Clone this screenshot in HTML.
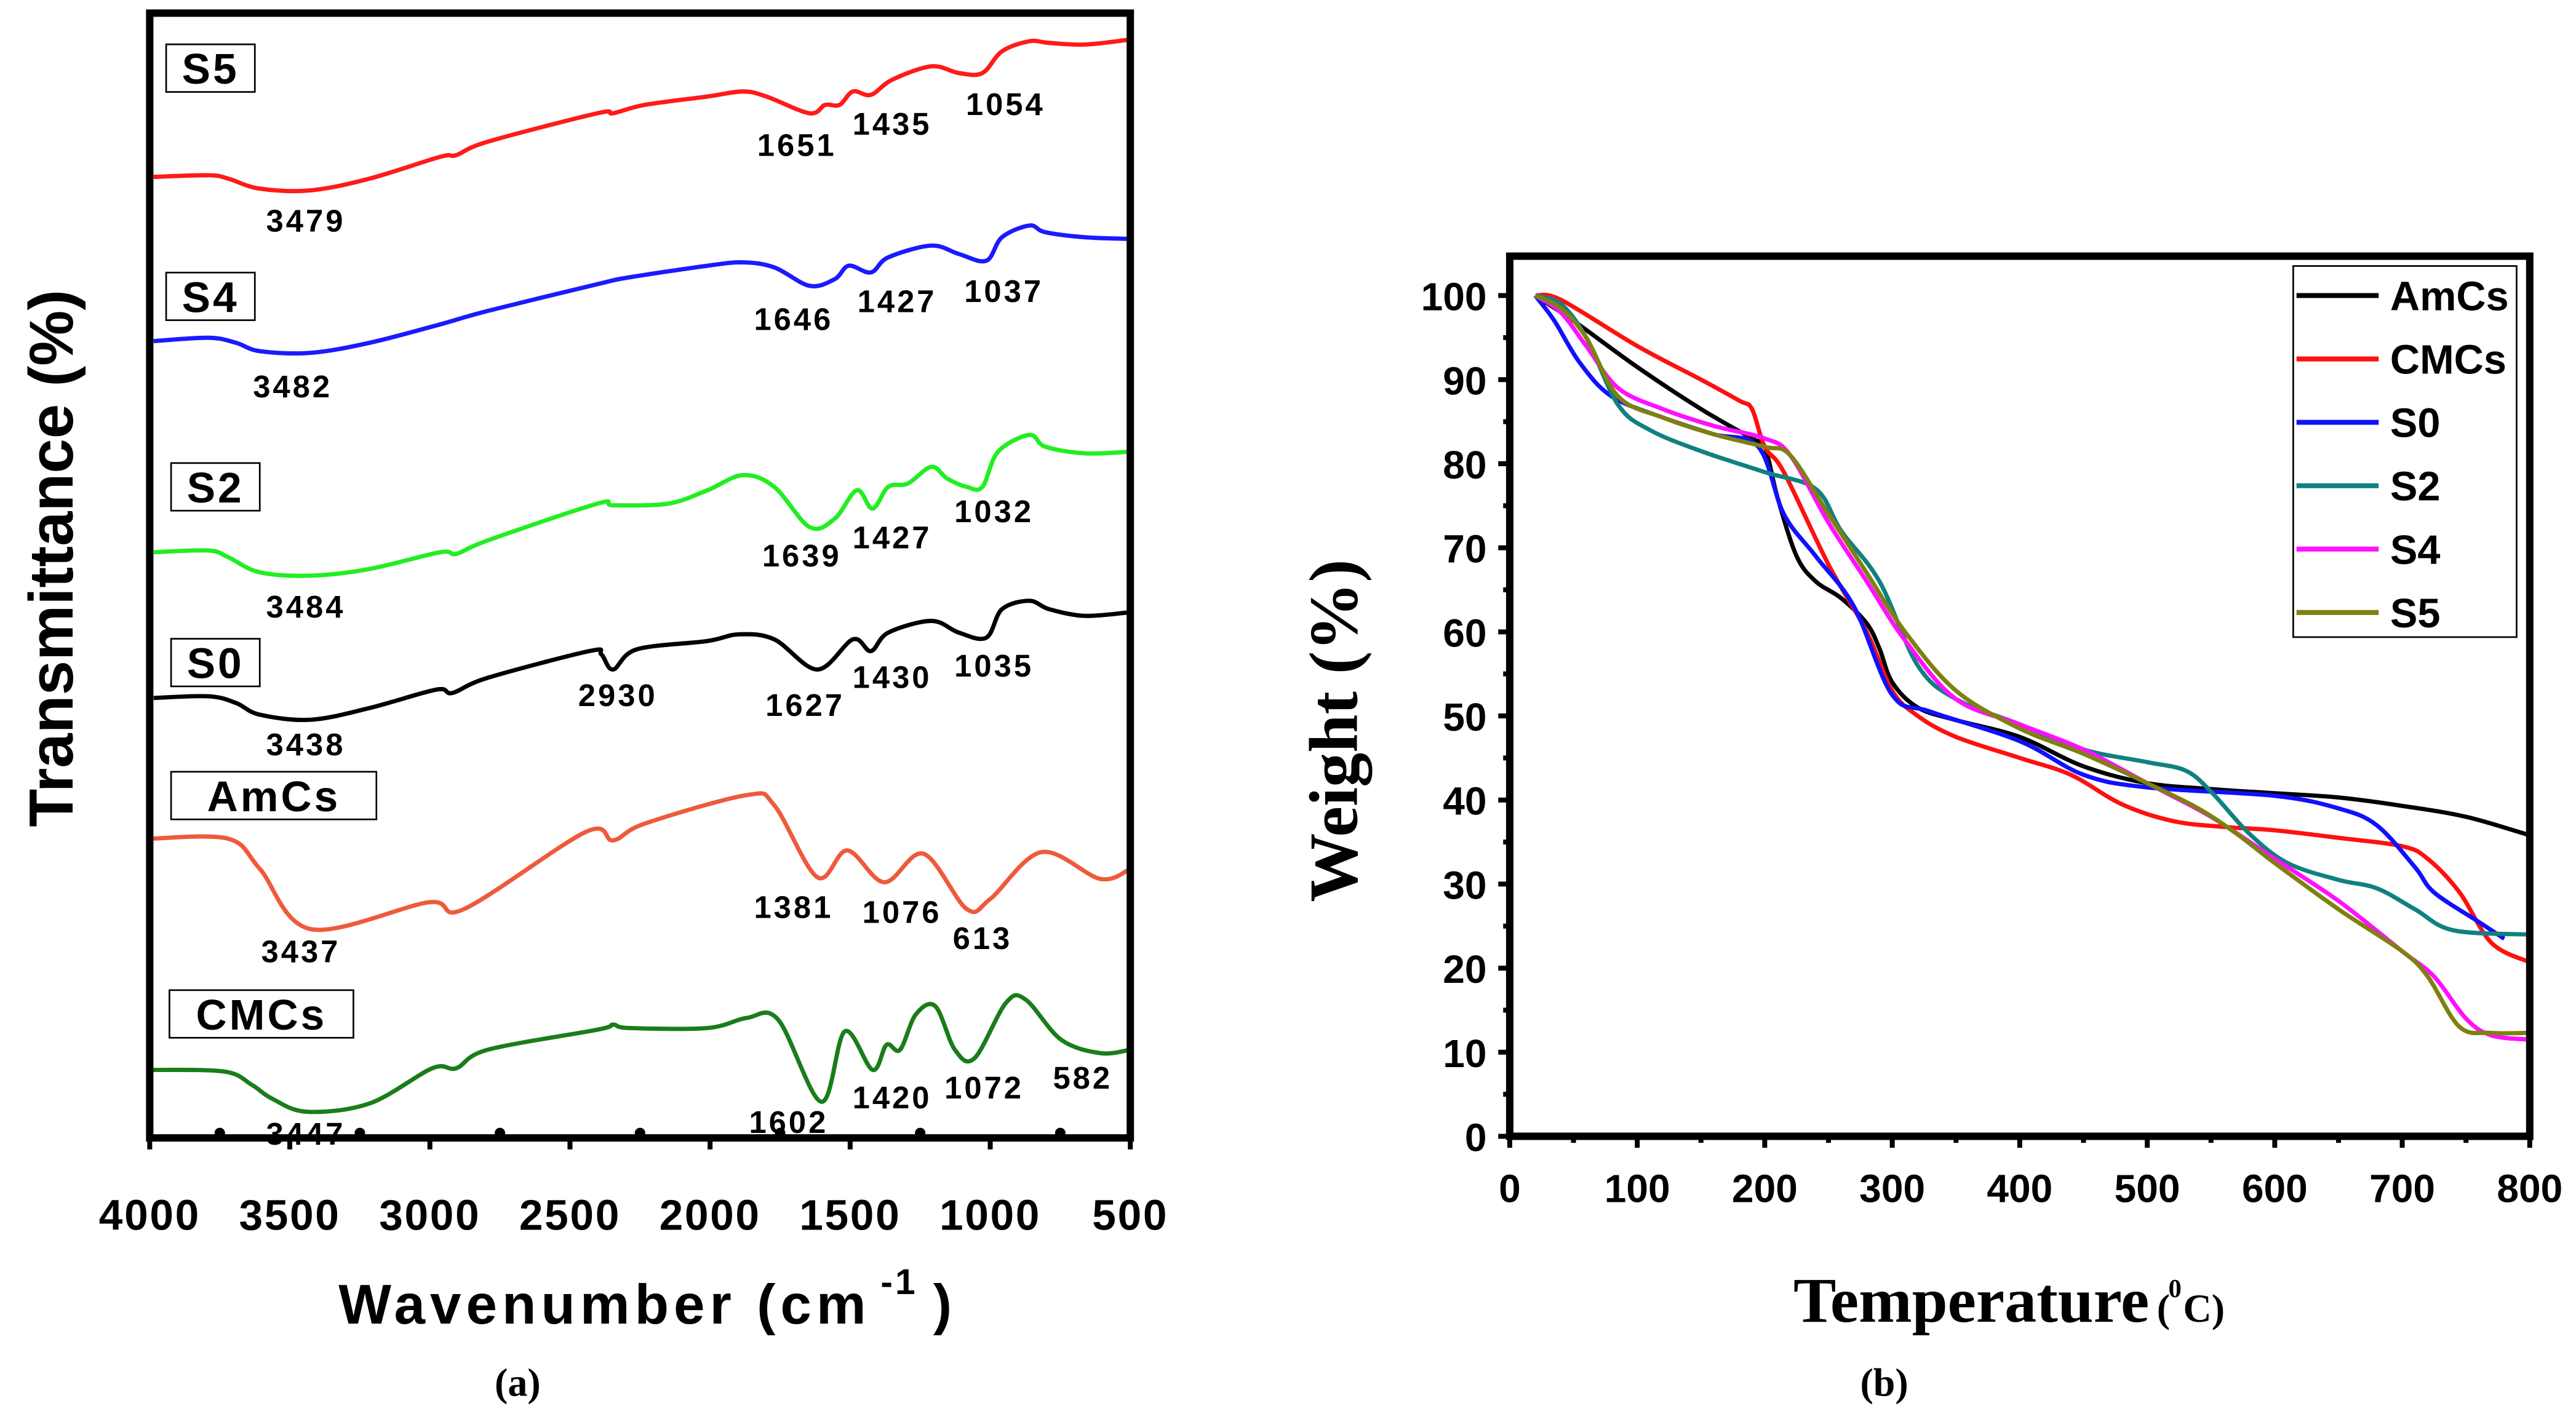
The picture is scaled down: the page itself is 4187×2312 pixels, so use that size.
<!DOCTYPE html>
<html><head><meta charset="utf-8"><style>
html,body{margin:0;padding:0;background:#fff;}
svg{display:block;}
.tk{font-family:"Liberation Sans",sans-serif;font-weight:bold;font-size:26px;fill:#000;letter-spacing:1px;}
.pk{font-family:"Liberation Sans",sans-serif;font-weight:bold;font-size:19px;fill:#000;letter-spacing:1.5px;}
.sm{font-family:"Liberation Sans",sans-serif;font-weight:bold;font-size:26px;fill:#000;letter-spacing:1.5px;}
.sr{font-family:"Liberation Serif",serif;font-weight:bold;fill:#000;}
.lg{font-family:"Liberation Sans",sans-serif;font-weight:bold;font-size:25px;fill:#000;}
</style></head><body>
<svg id="fig" width="4187" height="2312" viewBox="0 0 1568 866" xmlns="http://www.w3.org/2000/svg">
<rect width="1568" height="866" fill="#fff"/>
<g id="pa"></g>
<g id="pb"></g>
</svg>
<script>
// ---------- FTIR data (wavenumber, transmittance a.u.) ----------
const ftirWnS5=[3986,3790,3720,3607,3425,3215,2963,2906,2794,2402,2346,2233,2009,1883,1799,1645,1589,1538,1490,1426,1350,1210,1112,1028,958,860,790,663,500];
const ftirTS5=[589,590,588,582,581,588,601,602,610,627,627,632,637,640,637,627,632,632,640,638,647,655,651,651,664,670,669,668,671];
const ftirWnS4=[3986,3790,3692,3607,3425,3215,2963,2794,2402,2290,2009,1883,1771,1645,1555,1505,1426,1364,1210,1112,1014,958,860,804,663,500];
const ftirTS4=[491,493,490,485,484,490,501,509,525,529,536,538,535,524,528,536,532,541,548,543,539,553,560,556,553,552];
const ftirWnS2=[3986,3790,3720,3607,3425,3215,2963,2906,2794,2402,2346,2149,2009,1883,1771,1645,1555,1476,1420,1364,1294,1210,1154,1084,1028,972,860,804,663,500];
const ftirTS2=[365,366,362,353,351,355,365,364,372,394,393,394,402,411,404,380,385,402,391,404,406,416,409,404,404,425,435,428,424,425];
const ftirWnS0=[3986,3790,3692,3607,3425,3215,2977,2920,2794,2430,2388,2346,2262,2009,1897,1771,1617,1490,1426,1364,1210,1112,1014,958,860,790,663,509];
const ftirTS0=[278,279,275,268,265,272,283,281,290,306,304,295,307,312,316,313,295,313,306,317,324,317,314,331,336,331,327,329];
const ftirWnAm=[4000,3720,3607,3425,3005,2878,2444,2346,2233,1869,1771,1617,1510,1378,1238,1084,1000,817,607,500];
const ftirTAm=[194,194,176,140,156,152,198,193,203,220,214,171,187,168,185,152,158,186,170,176];
const ftirWnCM=[4000,3734,3635,3565,3439,3215,2991,2906,2794,2402,2346,2290,2009,1869,1757,1603,1519,1420,1370,1322,1266,1196,1126,1056,944,874,747,607,500];
const ftirTCM=[56,55,47,39,31,36,57,57,68,80,83,81,81,87,86,37,79,56,71,68,89,94,68,63,96,98,74,66,68];
const ftirXTicks=[4000,3500,3000,2500,2000,1500,1000,500];
// ---------- TGA data (temperature, weight %) ----------
const tgaTAm=[20,50,100,150,190,200,210,225,240,260,280,290,300,320,350,400,450,500,550,600,650,700,750,800];
const tgaWAm=[100,97,91.5,86.5,83,82,76,69,66,64,61,58,54,51,49.5,47.5,44,42,41.3,40.8,40.3,39.3,38,35.8];
const tgaTCM=[20,40,100,150,180,190,200,215,250,280,300,320,350,400,440,480,520,560,600,650,700,720,745,770,800];
const tgaWCM=[100,99.5,94,90,87.5,86.5,82,79,68,60,53,50,47.5,45,43,39.5,37.5,36.8,36.4,35.5,34.5,33,29,23,20.7];
const tgaTS0=[20,35,55,80,120,160,195,215,240,270,300,330,400,450,500,600,650,680,710,725,760,780];
const tgaWS0=[100,97,92,88,85.5,83.5,82,74,69,63,52.5,50.5,47,43,41.5,40.5,39,37,32,29,25.5,23.5];
const tgaTS2=[20,40,60,85,110,150,200,240,260,290,320,350,400,450,500,530,550,580,610,650,680,710,740,800];
const tgaWS2=[100,99,95,87,84,81.5,79,77,72,66,56,52,49,46,44.5,43.5,41,36,32.5,30.5,29.5,27,24.5,24];
const tgaTS4=[20,40,60,85,120,160,200,220,250,280,310,350,400,450,500,550,600,650,700,725,750,770,800];
const tgaWS4=[100,98,94,89,86.5,84.5,83,81,73,66,59,52,49,46,42,38,33,28,22,19,14,12,11.5];
const tgaTS5=[20,40,60,85,120,160,200,220,250,280,310,350,400,450,500,540,570,600,650,700,720,745,770,800];
const tgaWS5=[100,98.5,95,88,85.5,83.5,82,81,74,67,60,53,48.5,45.5,42,39,36,32.5,27,22,19,13,12.3,12.3];
const tgaYTicks=[0,10,20,30,40,50,60,70,80,90,100];
const tgaXTicks=[0,100,200,300,400,500,600,700,800];
const tgaNames=["AmCs","CMCs","S0","S2","S4","S5"];

const NS="http://www.w3.org/2000/svg";
function mk(parent,tag,attrs,text){const e=document.createElementNS(NS,tag);for(const k in attrs)e.setAttribute(k,attrs[k]);if(text!==undefined)e.textContent=text;parent.appendChild(e);return e;}
function smooth(pts){let d="M"+pts[0][0].toFixed(2)+","+pts[0][1].toFixed(2);
 for(let i=0;i<pts.length-1;i++){const p0=pts[Math.max(0,i-1)],p1=pts[i],p2=pts[i+1],p3=pts[Math.min(pts.length-1,i+2)];
  const c1=[p1[0]+(p2[0]-p0[0])/6,p1[1]+(p2[1]-p0[1])/6],c2=[p2[0]-(p3[0]-p1[0])/6,p2[1]-(p3[1]-p1[1])/6];
  d+="C"+c1[0].toFixed(2)+","+c1[1].toFixed(2)+" "+c2[0].toFixed(2)+","+c2[1].toFixed(2)+" "+p2[0].toFixed(2)+","+p2[1].toFixed(2);}
 return d;}

// ---------- Panel A ----------
const A=document.getElementById('pa');
const ax0=91,ax1=688,ay0=693,ay1=8;
const axX=w=>ax0+(4000-w)/3500*(ax1-ax0);
const axY=v=>708.7-1.0203*v;
const fSeries=[[ftirWnS5,ftirTS5,"#ff1a1a","ftir-line-s5"],[ftirWnS4,ftirTS4,"#1a1aff","ftir-line-s4"],[ftirWnS2,ftirTS2,"#22ee22","ftir-line-s2"],[ftirWnS0,ftirTS0,"#000","ftir-line-s0"],[ftirWnAm,ftirTAm,"#ee5a3c","ftir-line-amcs"],[ftirWnCM,ftirTCM,"#1a7d1a","ftir-line-cmcs"]];
fSeries.forEach(s=>{const pts=s[0].map((w,i)=>[axX(w),axY(s[1][i])]);
 const p=mk(A,'path',{d:smooth(pts),fill:'none',stroke:s[2],'stroke-width':2.6});
 
 });
mk(A,'rect',{x:ax0,y:ay1,width:ax1-ax0,height:ay0-ay1,fill:'none',stroke:'#000','stroke-width':4.5,});
ftirXTicks.forEach(t=>{const x=axX(t);
 mk(A,'line',{x1:x,x2:x,y1:ay0,y2:ay0+7,stroke:'#000','stroke-width':3});
 const tx=mk(A,'text',{x:x,y:749,'text-anchor':'middle',class:'tk'},String(t));
 
 
 if(t>500){const xm=axX(t-250);mk(A,'circle',{cx:xm,cy:ay0-3,r:3.2,fill:'#000'});}});
mk(A,'text',{x:368,y:806,'text-anchor':'middle',class:'sm',style:'font-size:34px;letter-spacing:3px',},"Wavenumber (cm");
mk(A,'text',{x:536,y:788,class:'sm',style:'font-size:22px',},"-1");
mk(A,'text',{x:568,y:806,class:'sm',style:'font-size:34px',},")");
mk(A,'text',{x:0,y:0,transform:'translate(44,340) rotate(-90)','text-anchor':'middle',class:'sm',style:'font-size:38px;letter-spacing:0',},"Transmittance (%)");
[["S5",101,27,54],["S4",101,166,54],["S2",104,282,54],["S0",104,389,54],["AmCs",104,470,125],["CMCs",103,603,112]].forEach(b=>{
 mk(A,'rect',{x:b[1],y:b[2],width:b[3],height:29,fill:'#fff',stroke:'#000','stroke-width':1,});
 mk(A,'text',{x:b[1]+b[3]/2,y:b[2]+24,'text-anchor':'middle',class:'sm',},b[0]);});
[["1651",485,95],["1435",543,82],["1054",612,70],["3479",186,141],["1646",483,201],["1427",546,190],["1037",611,184],["3482",178,242],["1639",488,345],["1427",543,334],["1032",605,318],["3484",186,376],["2930",376,430],["1627",490,436],["1430",543,419],["1035",605,412],["3438",186,460],["1381",483,559],["1076",549,562],["613",598,578],["3437",183,586],["1602",480,690],["1420",543,675],["1072",599,669],["582",659,663],["3447",186,697]].forEach(l=>{
 const t=mk(A,'text',{x:l[1],y:l[2],'text-anchor':'middle',class:'pk'},l[0]);
 
 });
mk(A,'text',{x:315,y:850,'text-anchor':'middle',class:'sr',style:'font-size:24px',},"(a)");

// ---------- Panel B ----------
const B=document.getElementById('pb');
const bx0=919,bx1=1540,by0=692,by1=180,bTop=156;
const bX=t=>bx0+t/800*(bx1-bx0);
const bY=w=>by0-w/100*(by0-by1);
const tSeries=[[tgaTAm,tgaWAm,"#000"],[tgaTCM,tgaWCM,"#ff1010"],[tgaTS0,tgaWS0,"#1010ff"],[tgaTS2,tgaWS2,"#118080"],[tgaTS4,tgaWS4,"#ff10ff"],[tgaTS5,tgaWS5,"#808010"]];
tSeries.forEach((s,k)=>{const pts=s[0].map((t,i)=>[bX(t),bY(s[1][i])]);
 const p=mk(B,'path',{d:smooth(pts),fill:'none',stroke:s[2],'stroke-width':2.6});
 
 });
mk(B,'rect',{x:bx0,y:bTop,width:bx1-bx0,height:by0-bTop,fill:'none',stroke:'#000','stroke-width':4.5,});
tgaYTicks.forEach(v=>{const y=bY(v);
 mk(B,'line',{x1:bx0-7,x2:bx0,y1:y,y2:y,stroke:'#000','stroke-width':3});
 if(v<100){const ym=bY(v+5);mk(B,'line',{x1:bx0-4,x2:bx0,y1:ym,y2:ym,stroke:'#000','stroke-width':3});}
 const t=mk(B,'text',{x:905,y:y+9,'text-anchor':'end',class:'tk',style:'font-size:24px;letter-spacing:0'},String(v));
 
 });
tgaXTicks.forEach(v=>{const x=bX(v);
 mk(B,'line',{x1:x,x2:x,y1:by0,y2:by0+7,stroke:'#000','stroke-width':3});
 if(v<800){const xm=bX(v+50);mk(B,'line',{x1:xm,x2:xm,y1:by0,y2:by0+4,stroke:'#000','stroke-width':3});}
 const t=mk(B,'text',{x:x,y:732,'text-anchor':'middle',class:'tk',style:'font-size:24px;letter-spacing:0'},String(v));
 
 });
mk(B,'rect',{x:1396,y:162,width:136,height:226,fill:'#fff',stroke:'#000','stroke-width':1,});
tgaNames.forEach((n,i)=>{const y=180+i*38.6;
 const l=mk(B,'line',{x1:1398,x2:1448,y1:y,y2:y,stroke:tSeries[i][2],'stroke-width':3});
 
 
 const t=mk(B,'text',{x:1455,y:y+9,class:'lg'},n);
 
 });
mk(B,'text',{x:1200,y:805,'text-anchor':'middle',class:'sr',style:'font-size:39px',},"Temperature");
mk(B,'text',{x:1313,y:805,class:'sr',style:'font-size:24px',},"(");
mk(B,'text',{x:1320,y:790,class:'sr',style:'font-size:16px',},"0");
mk(B,'text',{x:1329,y:805,class:'sr',style:'font-size:24px',},"C)");
mk(B,'text',{x:0,y:0,transform:'translate(826,445) rotate(-90)','text-anchor':'middle',class:'sr',style:'font-size:42px',},"Weight (%)");
mk(B,'text',{x:1147,y:850,'text-anchor':'middle',class:'sr',style:'font-size:24px',},"(b)");
</script>
</body></html>
